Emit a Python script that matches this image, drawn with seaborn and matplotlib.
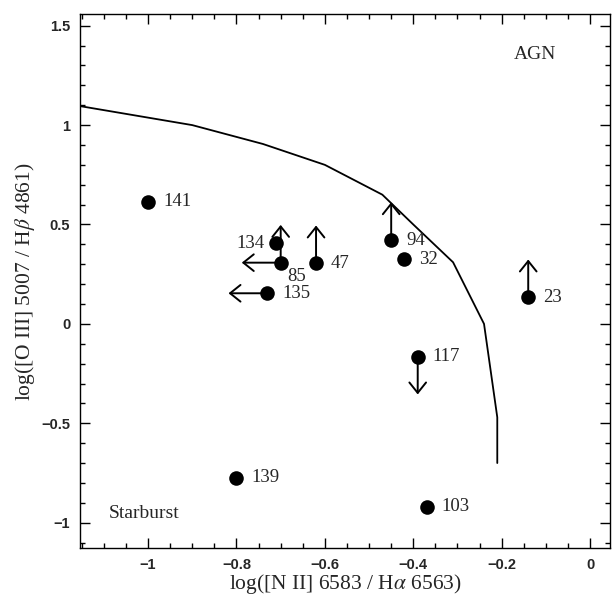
import matplotlib
matplotlib.use("Agg")
import matplotlib.pyplot as plt
import seaborn as sns
import pandas as pd
import numpy as np
from matplotlib.ticker import MultipleLocator, FuncFormatter

# ---- data ----
names = ["141", "134", "85", "47", "135", "94", "32", "23", "117", "139", "103"]
log_nii_ha = [-1.00, -0.71, -0.70, -0.62, -0.73, -0.45, -0.42, -0.14, -0.39, -0.80, -0.37]
log_oiii_hb = [0.615, 0.405, 0.308, 0.305, 0.154, 0.422, 0.325, 0.134, -0.165, -0.775, -0.920]

# limit arrows: (name, dx, dy)
arrow_names = ["85", "85", "47", "135", "94", "23", "117"]
arrow_dx = [-0.088, 0.0, 0.0, -0.088, 0.0, 0.0, 0.0]
arrow_dy = [0.0, 0.19, 0.19, 0.0, 0.19, 0.19, -0.19]

# label placement (which side)
label_side = ["r", "l", "br", "r", "r", "r", "r", "r", "r", "r", "r"]

# dividing curve
curve_x = [-1.20, -0.90, -0.74, -0.60, -0.47, -0.40, -0.31, -0.24, -0.21, -0.21]
curve_y = [1.113, 1.00, 0.905, 0.80, 0.65, 0.50, 0.31, 0.00, -0.47, -0.70]

# ---- style ----
sns.set_style("ticks")
plt.rcParams["font.family"] = ["Liberation Serif", "DejaVu Serif"]
plt.rcParams["mathtext.fontset"] = "stix"

fig = plt.figure(figsize=(6.13, 5.98), dpi=100)
ax = fig.add_axes([80/613, 1-548.3/598, (610-80)/613, (548.3-14)/598])

pts = pd.DataFrame({"x": log_nii_ha, "y": log_oiii_hb, "name": names})
curve = pd.DataFrame({"x": curve_x, "y": curve_y})

sns.lineplot(data=curve, x="x", y="y", sort=False, estimator=None,
             color="black", lw=1.3, ax=ax, zorder=2)

lookup = dict(zip(names, zip(log_nii_ha, log_oiii_hb)))
for n, dx, dy in zip(arrow_names, arrow_dx, arrow_dy):
    x0, y0 = lookup[n]
    ax.annotate("", xy=(x0 + dx, y0 + dy), xytext=(x0, y0),
                arrowprops=dict(arrowstyle="->,head_length=0.75,head_width=0.6",
                                lw=1.4, color="black", mutation_scale=10,
                                shrinkA=0, shrinkB=0), zorder=3)

sns.scatterplot(data=pts, x="x", y="y", s=110, color="black",
                edgecolor="black", linewidth=0, ax=ax, zorder=4)

lab_fs = 13.5
for n, x0, y0, side in zip(names, log_nii_ha, log_oiii_hb, label_side):
    if side == "r":
        ax.annotate(n, (x0, y0), xytext=(15, 0), textcoords="offset pixels",
                    ha="left", va="center", fontsize=lab_fs)
    elif side == "l":
        ax.annotate(n, (x0, y0), xytext=(-12, 0), textcoords="offset pixels",
                    ha="right", va="center", fontsize=lab_fs)
    else:
        ax.annotate(n, (x0, y0), xytext=(7, -14), textcoords="offset pixels",
                    ha="left", va="center", fontsize=lab_fs)

ax.text(-0.124, 1.353, "AGN", fontsize=14, ha="center", va="center")
ax.text(-1.088, -0.953, "Starburst", fontsize=14, ha="left", va="center")

ax.set_xlim(-1.154, 0.045)
ax.set_ylim(-1.129, 1.559)

def fmt(v, pos):
    v = round(v, 6)
    if v == 0:
        v = 0.0
    return ("%g" % v).replace("-", "\u2212")

ax.xaxis.set_major_locator(MultipleLocator(0.2))
ax.xaxis.set_minor_locator(MultipleLocator(0.05))
ax.yaxis.set_major_locator(MultipleLocator(0.5))
ax.yaxis.set_minor_locator(MultipleLocator(0.1))
ax.xaxis.set_major_formatter(FuncFormatter(fmt))
ax.yaxis.set_major_formatter(FuncFormatter(fmt))

ax.tick_params(which="both", direction="in", top=True, right=True, color="black")
ax.tick_params(which="major", length=7, width=1, pad=7)
ax.tick_params(which="minor", length=3.5, width=1)
for lab in ax.get_xticklabels() + ax.get_yticklabels():
    lab.set_family(["Liberation Sans", "DejaVu Sans"])
    lab.set_fontsize(10.5)
    lab.set_fontweight("bold")

for sp in ax.spines.values():
    sp.set_linewidth(1)
    sp.set_color("black")

ax.set_xlabel(r"log([N II] 6583 / H$\alpha$ 6563)", fontsize=15.5, labelpad=0)
ax.set_ylabel(r"log([O III] 5007 / H$\beta$ 4861)", fontsize=15.5, labelpad=3)

fig.savefig("out.png", dpi=100)
